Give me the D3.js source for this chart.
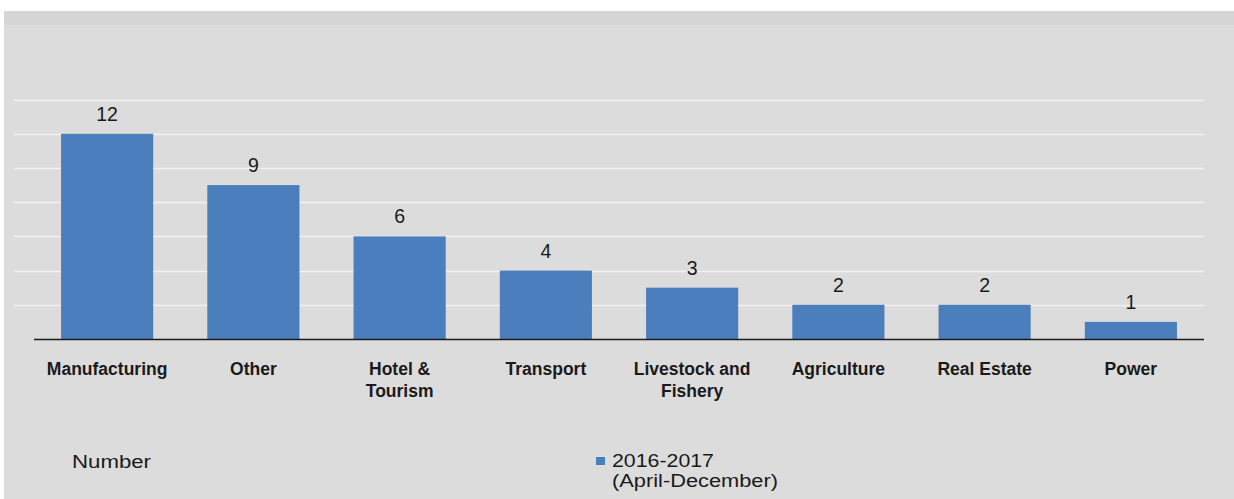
<!DOCTYPE html>
<html><head><meta charset="utf-8">
<script src="https://cdn.jsdelivr.net/npm/d3@7"></script>
<style>body{margin:0;background:#fff}svg{display:block}</style>
</head><body>
<svg id="c" width="1234" height="499"></svg>
<script>
const categories = ["Manufacturing","Other","Hotel & Tourism","Transport","Livestock and Fishery","Agriculture","Real Estate","Power"];
const labelLines = [["Manufacturing"],["Other"],["Hotel &","Tourism"],["Transport"],["Livestock and","Fishery"],["Agriculture"],["Real Estate"],["Power"]];
const values = [12,9,6,4,3,2,2,1];
const gridTicks = [2,4,6,8,10,12,14];
const seriesName = ["2016-2017","(April-December)"];
const yTitle = "Number";

const svg = d3.select("#c");
const FONT = "Liberation Sans, Arial, sans-serif";
svg.append("rect").attr("x",4).attr("y",11).attr("width",1230).attr("height",488).attr("fill","#dcdcdc");
svg.append("rect").attr("x",4).attr("y",11).attr("width",1230).attr("height",14).attr("fill","#d6d6d6");

const x = d3.scaleBand().domain(categories).range([34,1204]).paddingInner(0.37).paddingOuter(0.185);
const y = d3.scaleLinear().domain([0,14]).range([339,99.6]);

svg.append("g").selectAll("line").data(gridTicks).join("line")
  .attr("x1",14).attr("x2",1204).attr("y1",d=>Math.round(y(d))+0.5).attr("y2",d=>Math.round(y(d))+0.5)
  .attr("stroke","#f1f1f1").attr("stroke-width",1.6);

svg.append("g").selectAll("rect").data(values).join("rect")
  .attr("x",(d,i)=>x(categories[i])).attr("width",x.bandwidth())
  .attr("y",d=>y(d)).attr("height",d=>y(0)-y(d)).attr("fill","#4a7ebd");

svg.append("line").attr("x1",34).attr("x2",1204).attr("y1",339.5).attr("y2",339.5).attr("stroke","#1a1a1a").attr("stroke-width",1.5);

svg.append("g").selectAll("text").data(values).join("text")
  .attr("x",(d,i)=>x(categories[i])+x.bandwidth()/2).attr("y",d=>y(d)-13)
  .attr("text-anchor","middle").attr("font-family",FONT)
  .attr("font-size",19.5).attr("fill","#1a1a1a").text(d=>d);

const lab = svg.append("g").selectAll("text").data(labelLines).join("text")
  .attr("x",(d,i)=>x(categories[i])+x.bandwidth()/2).attr("y",375)
  .attr("text-anchor","middle").attr("font-family",FONT)
  .attr("font-size",17.5).attr("font-weight","bold").attr("fill","#1a1a1a");
lab.each(function(lines){
  const t=d3.select(this);
  lines.forEach((l,j)=>t.append("tspan").attr("x",t.attr("x")).attr("dy",j?22:0).text(l));
});

svg.append("text").attr("x",72).attr("y",468).attr("font-family",FONT)
  .attr("font-size",17.5).attr("fill","#1a1a1a")
  .attr("textLength",79).attr("lengthAdjust","spacingAndGlyphs").text(yTitle);

svg.append("rect").attr("x",596).attr("y",457).attr("width",9).attr("height",8).attr("fill","#4a7ebd");
const legW = [102,166];
seriesName.forEach((s,j)=>svg.append("text").attr("x",612).attr("y",467+j*20)
  .attr("font-family",FONT).attr("font-size",17.5).attr("fill","#1a1a1a")
  .attr("textLength",legW[j]).attr("lengthAdjust","spacingAndGlyphs").text(s));
</script>
</body></html>
